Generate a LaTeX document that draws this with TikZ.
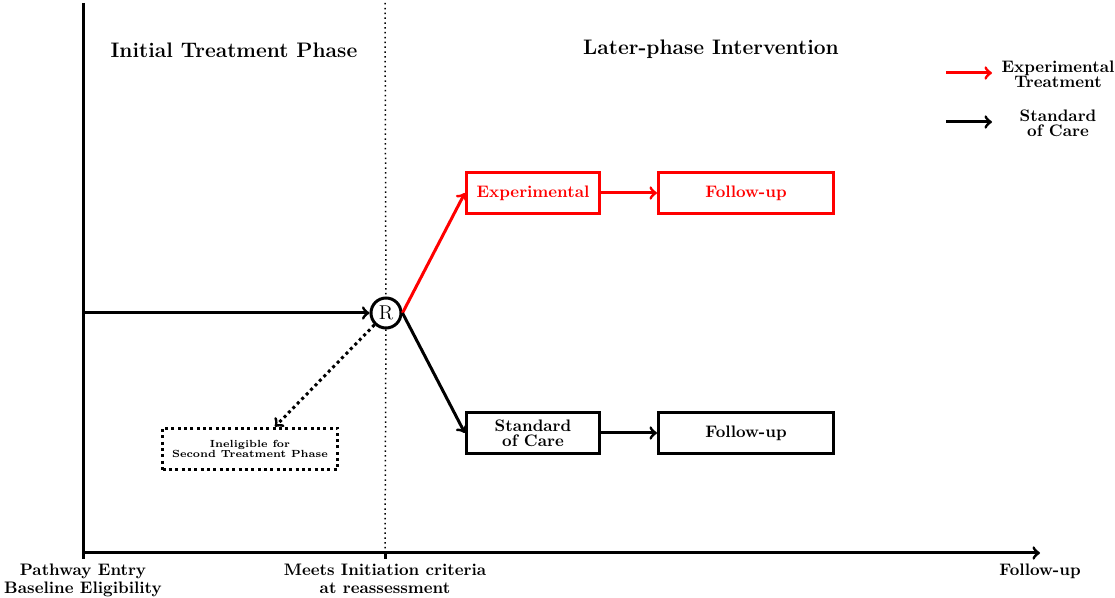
\documentclass[tikz,border=0pt]{standalone}
\usepackage{tikz}
\usetikzlibrary{shapes}
\usetikzlibrary{arrows}
\usetikzlibrary{positioning}
\usetikzlibrary{calc}
\tikzstyle{phase}=[font=\fontsize{12.6}{15}\selectfont\bfseries]
\tikzstyle{bloc}=[rectangle,draw,line width=1.8pt,minimum height=25pt,
font=\bfseries,align=center,inner sep=2pt]
\tikzstyle{exp}=[bloc,draw=red,text=red]
\tikzstyle{rando}=[circle,draw,line width=1.8pt,fill=white,minimum size=18pt,
inner sep=0pt,font=\large]
\tikzstyle{axe}=[line width=1.8pt]
\tikzstyle{lab}=[font=\bfseries,align=center,inner sep=1pt]
\tikzstyle{suite}=[->,line width=1.8pt]

\begin{document}
\begin{tikzpicture}[x=0.6pt,y=-0.6pt]
\useasboundingbox (0,0) rectangle (1115,598);
\node[phase] (p1) at (234,50) {Initial Treatment Phase};
\node[phase] (p2) at (711,49) {Later-phase Intervention};
\node[lab] (lg1) at (1058,74) {Experimental\\[-3pt]Treatment};
\node[lab] (lg2) at (1058,123) {Standard\\[-3pt]of Care};
\coordinate (a1) at (946,73);
\coordinate (b1) at (946,122);
\coordinate (o) at (83,553);
\coordinate (top) at (83,3);
\coordinate (xend) at (1040,553);
\coordinate (m) at (385,553);
\coordinate (mtop) at (385,3);
\coordinate (start) at (83,313);
\node[rando] (R) at (386,313) {R};
\node[exp,minimum width=80pt] (e) at (533,193) {Experimental};
\node[exp,minimum width=105pt] (f1) at (746,193) {Follow-up};
\node[bloc,minimum width=80pt] (s) at (533,433) {Standard\\[-3pt]of Care};
\node[bloc,minimum width=105pt] (f2) at (746,433) {Follow-up};
\node[bloc,dotted,minimum width=105pt,font=\fontsize{6.2}{7}\selectfont\bfseries] (ie) at (250,449)
{Ineligible for\\[-1pt]Second Treatment Phase};
\node[lab,anchor=north] (t1) at (83,562) {Pathway Entry\\[-1pt]Baseline Eligibility};
\node[lab,anchor=north] (t2) at (385,562) {Meets Initiation criteria\\[-1pt]at reassessment};
\node[lab,anchor=north] (t3) at (1040,562) {Follow-up};
%axes
\draw[axe] (top) -- (o);
\draw[suite] (o) -- (xend);
\draw[axe] (o) -- ++(0,6);
\draw[axe] (m) -- ++(0,6);
\draw[line width=0.9pt,dotted] (mtop) -- (R);
\draw[line width=0.9pt,dotted] (R) -- (m);
%fleches
\draw[suite] (start) -- (R);
\draw[suite,red] (R.east) -- (e.west);
\draw[suite,red] (e) -- (f1);
\draw[suite] (R.east) -- (s.west);
\draw[suite] (s) -- (f2);
\draw[suite,dotted] (R) -- ([xshift=15pt]ie.north);
%legende
\draw[suite,red] (a1) -- ++(46,0);
\draw[suite] (b1) -- ++(46,0);
\end{tikzpicture}
\end{document}
